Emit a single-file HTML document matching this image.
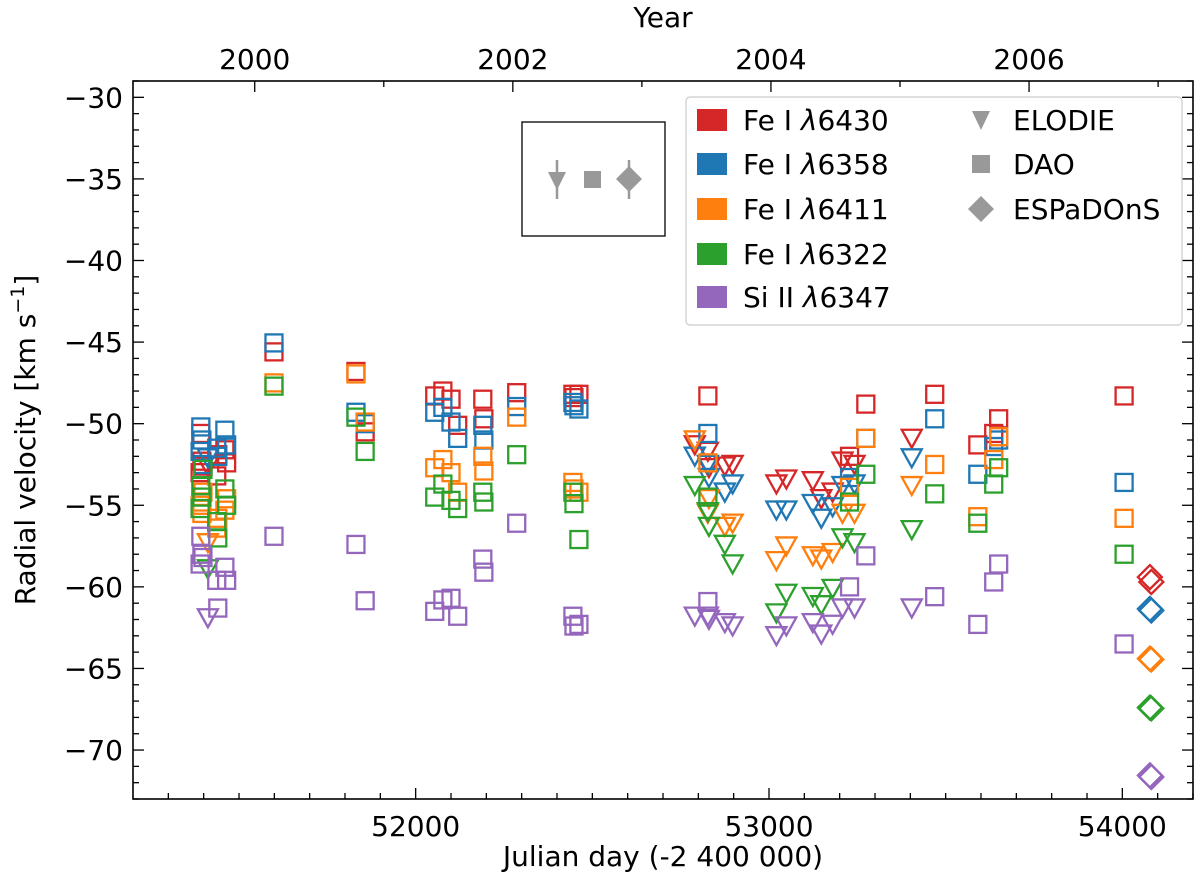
<!DOCTYPE html>
<html><head><meta charset="utf-8"><style>
html,body{margin:0;padding:0;background:#fff;}
svg{display:block;font-family:"DejaVu Sans","Liberation Sans",sans-serif;}
</style></head><body>
<svg id="chart" width="1200" height="889" viewBox="0 0 1200 889" xmlns="http://www.w3.org/2000/svg">
<g id="marks"></g>
<g id="axes"></g>
<g id="inset">
  <rect x="522" y="122" width="143" height="114" fill="#fff" stroke="#000" stroke-width="1.3"/>
  <line x1="557" y1="160" x2="557" y2="199" stroke="#999" stroke-width="2.5"/>
  <path d="M548,172 L566,172 L557,190 Z" fill="#999"/>
  <rect x="584" y="171" width="17" height="17" fill="#999"/>
  <line x1="629" y1="160" x2="629" y2="199" stroke="#999" stroke-width="2.5"/>
  <path d="M629,166 L642,179 L629,192 L616,179 Z" fill="#999"/>
</g>
<g id="legend">
  <rect x="686" y="97" width="496" height="228" rx="4" fill="#fff" fill-opacity="0.8" stroke="#ccc" stroke-width="1.2"/>
  <g><rect x="697" y="109" width="30" height="22" fill="#d62728"/><text x="743" y="130" font-size="28">Fe I <tspan font-style="italic">λ</tspan>6430</text></g>
  <g><rect x="697" y="153" width="30" height="22" fill="#1f77b4"/><text x="743" y="174" font-size="28">Fe I <tspan font-style="italic">λ</tspan>6358</text></g>
  <g><rect x="697" y="198" width="30" height="22" fill="#ff7f0e"/><text x="743" y="219" font-size="28">Fe I <tspan font-style="italic">λ</tspan>6411</text></g>
  <g><rect x="697" y="243" width="30" height="22" fill="#2ca02c"/><text x="743" y="264" font-size="28">Fe I <tspan font-style="italic">λ</tspan>6322</text></g>
  <g><rect x="697" y="286" width="30" height="22" fill="#9467bd"/><text x="743" y="307" font-size="28">Si II <tspan font-style="italic">λ</tspan>6347</text></g>
  <g><path d="M972,111 L990,111 L981,130 Z" fill="#999"/><text x="1013" y="130" font-size="28">ELODIE</text></g>
  <g><rect x="972" y="155" width="18" height="18" fill="#999"/><text x="1013" y="174" font-size="28">DAO</text></g>
  <g><path d="M981,196 L994,209 L981,222 L968,209 Z" fill="#999"/><text x="1013" y="219" font-size="28">ESPaDOnS</text></g>
</g>
<text x="663" y="866" font-size="28" text-anchor="middle">Julian day (-2 400 000)</text>
<text x="663" y="27" font-size="28" text-anchor="middle">Year</text>
<text transform="translate(35,440) rotate(-90)" font-size="28" text-anchor="middle">Radial velocity [km s<tspan dy="-11" font-size="19">−1</tspan><tspan dy="11">]</tspan></text>
</svg>
<script>
// ---- data ----
const lineNames = ["Fe I 6430","Fe I 6358","Fe I 6411","Fe I 6322","Si II 6347"];
const lineColors = ["#d62728","#1f77b4","#ff7f0e","#2ca02c","#9467bd"];
const daoJD = [51392,51395,51390,51398,51460,51465,51437,51440,51599,51831,51857,52054,52077,52100,52119,52190,52193,52286,52445,52448,52462,52827,53228,53274,53469,53591,53636,53650,54005];
const daoFe6430 = [-50.6,-52.3,-53.0,-52.6,-51.6,-52.4,-53.2,-51.9,-45.6,-46.8,-50.5,-48.3,-48.0,-48.5,-50.1,-48.5,-49.7,-48.1,-48.2,-48.4,-48.2,-48.3,-52.0,-48.8,-48.2,-51.3,-50.6,-49.7,-48.3];
const daoFe6358 = [-50.2,-51.0,-51.7,-52.5,-50.4,-51.3,-51.5,-52.0,-45.05,-49.3,-50.0,-49.3,-49.0,-49.9,-50.9,-50.1,-51.0,-48.95,-48.7,-48.9,-49.1,-50.6,-53.3,-50.9,-49.7,-53.1,-51.4,-51.0,-53.6];
const daoFe6411 = [-54.8,-55.5,-55.0,-54.2,-55.3,-54.6,-56.4,-55.8,-47.5,-46.95,-49.9,-52.7,-52.2,-53.0,-54.2,-52.0,-52.9,-49.6,-53.6,-54.0,-54.2,-52.4,-53.9,-50.9,-52.5,-55.7,-52.2,-50.8,-55.8];
const daoFe6322 = [-53.8,-54.5,-55.2,-52.8,-54.0,-55.0,-56.0,-57.0,-47.7,-49.6,-51.7,-54.5,-53.7,-54.7,-55.2,-54.2,-54.8,-51.9,-54.2,-54.9,-57.1,-54.5,-54.8,-53.1,-54.3,-56.1,-53.7,-52.7,-58.0];
const daoSi6347 = [-56.9,-58.0,-58.6,-58.2,-58.8,-59.6,-59.6,-61.3,-56.9,-57.4,-60.85,-61.5,-60.8,-60.7,-61.8,-58.3,-59.1,-56.1,-61.8,-62.4,-62.3,-60.9,-60.0,-58.1,-60.6,-62.3,-59.7,-58.6,-63.5];
const elodieJD = [51412,52790,52827,52830,52875,52897,53021,53049,53124,53148,53180,53208,53242,53404];
const elodieFe6430 = [-52.5,-51.2,-51.6,-52.6,-52.5,-52.4,-53.6,-53.3,-53.4,-54.5,-54.1,-52.2,-52.4,-50.8];
const elodieFe6358 = [-52.0,-51.9,-52.4,-53.2,-54.1,-53.6,-55.2,-55.2,-54.8,-55.7,-55.0,-53.7,-53.6,-52.0];
const elodieFe6411 = [-57.2,-50.9,-55.4,-54.5,-56.2,-56.0,-58.3,-57.4,-58.0,-58.2,-57.8,-55.4,-55.4,-53.7];
const elodieFe6322 = [-58.8,-53.7,-55.3,-56.2,-57.3,-58.5,-61.5,-60.3,-60.5,-61.0,-60.0,-56.9,-57.2,-56.4];
const elodieSi6347 = [-61.8,-61.7,-61.7,-61.9,-62.1,-62.3,-62.9,-62.3,-62.1,-62.8,-62.2,-61.2,-61.2,-61.2];
const espJD = [54078,54082];
const espFe6430 = [-59.4,-59.7];
const espFe6358 = [-61.35,-61.45];
const espFe6411 = [-64.4,-64.45];
const espFe6322 = [-67.4,-67.45];
const espSi6347 = [-71.55,-71.65];
const yTickLabels = ["−30","−35","−40","−45","−50","−55","−60","−65","−70"];
const yTickValues = [-30,-35,-40,-45,-50,-55,-60,-65,-70];
const xTickValues = [52000,53000,54000];
const xTickLabels = ["52000","53000","54000"];
const yearTickValues = [2000,2002,2004,2006];
const yearTickLabels = ["2000","2002","2004","2006"];

// ---- axes functions ----
const L=133,R=1193,T=81,B=799;
const X0=51200,X1=54200,Y0=-73,Y1=-29;
const sx = v => L + (v-X0)/(X1-X0)*(R-L);
const sy = v => B - (v-Y0)/(Y1-Y0)*(B-T);
const yearToJD = y => 51544.5 + (y-2000)*365.25;
const NS="http://www.w3.org/2000/svg";
const marks=document.getElementById('marks');
const axes=document.getElementById('axes');
function mk(tag,attrs,parent){const e=document.createElementNS(NS,tag);for(const k in attrs)e.setAttribute(k,attrs[k]);parent.appendChild(e);return e;}

const dao=[daoFe6430,daoFe6358,daoFe6411,daoFe6322,daoSi6347];
const elo=[elodieFe6430,elodieFe6358,elodieFe6411,elodieFe6322,elodieSi6347];
const esp=[espFe6430,espFe6358,espFe6411,espFe6322,espSi6347];
for(let li=0;li<5;li++){
  const c=lineColors[li];
  daoJD.forEach((jd,i)=>{
    const x=sx(jd),y=sy(dao[li][i]);
    const e=mk('rect',{x:x-8.5,y:y-8.5,width:17,height:17,fill:'none',stroke:c,'stroke-width':2.3},marks);
    
    
  });
  elodieJD.forEach((jd,i)=>{
    const x=sx(jd),y=sy(elo[li][i]);
    const e=mk('path',{d:`M${x-10},${y-7} L${x+10},${y-7} L${x},${y+11} Z`,fill:'none',stroke:c,'stroke-width':2.3,'stroke-linejoin':'miter'},marks);
    
    
  });
  espJD.forEach((jd,i)=>{
    const x=sx(jd),y=sy(esp[li][i]);
    const e=mk('path',{d:`M${x},${y-12} L${x+12},${y} L${x},${y+12} L${x-12},${y} Z`,fill:'none',stroke:c,'stroke-width':2.3},marks);
    
    
  });
}

// frame
const fr=mk('rect',{x:L,y:T,width:R-L,height:B-T,fill:'none',stroke:'#000','stroke-width':1.6},axes);


// y ticks
for(let v=-73;v<=-29;v++){
  const y=sy(v),maj=(v%5===0);const len=maj?11:6;
  mk('line',{x1:L,y1:y,x2:L+len,y2:y,stroke:'#000','stroke-width':1.3},axes);
  mk('line',{x1:R,y1:y,x2:R-len,y2:y,stroke:'#000','stroke-width':1.3},axes);
}
yTickValues.forEach((v,i)=>{
  const t=mk('text',{x:L-10,y:sy(v)+10,'font-size':28,'text-anchor':'end'},axes);
  t.textContent=yTickLabels[i];
  
  
});
// x ticks
for(let v=51300;v<=54200;v+=100){
  const x=sx(v),maj=(v%1000===0);const len=maj?11:6;
  mk('line',{x1:x,y1:B,x2:x,y2:B-len,stroke:'#000','stroke-width':1.3},axes);
}
xTickValues.forEach((v,i)=>{
  const t=mk('text',{x:sx(v),y:B+37,'font-size':28,'text-anchor':'middle'},axes);
  t.textContent=xTickLabels[i];
  
  
});
// year ticks
for(let yr=1999;yr<=2008;yr++){
  const jd=yearToJD(yr); if(jd<X0||jd>X1) continue;
  const x=sx(jd),len=(yr%2===0)?11:6;
  mk('line',{x1:x,y1:T,x2:x,y2:T+len,stroke:'#000','stroke-width':1.3},axes);
}
yearTickValues.forEach((v,i)=>{
  const t=mk('text',{x:sx(yearToJD(v)),y:T-12,'font-size':28,'text-anchor':'middle'},axes);
  t.textContent=yearTickLabels[i];
  
  
});
</script>
</body></html>
